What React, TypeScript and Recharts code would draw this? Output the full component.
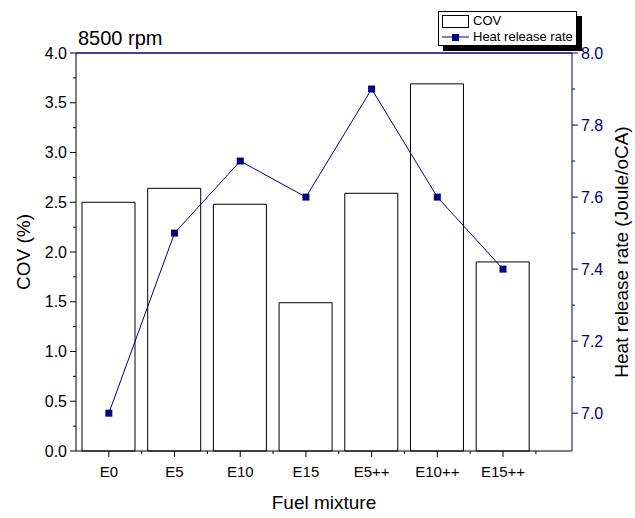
import React from "react";
import { Bar, CartesianGrid, ComposedChart, Legend, Line, ReferenceLine, XAxis, YAxis } from "recharts";

const FONT = "'Liberation Sans', Arial, sans-serif";
const NAVY = "#000080";

// fuel mixtures along the x axis
const categories = ["E0", "E5", "E10", "E15", "E5++", "E10++", "E15++"];
// COV (%) bars, left axis
const covValues = [2.5, 2.64, 2.48, 1.49, 2.59, 3.69, 1.9];
// heat release rate (Joule/oCA), right axis
const heatRelease = [7.0, 7.5, 7.7, 7.6, 7.9, 7.6, 7.4];

// tick positions (majors get labels, the others are minor ticks)
const covTicks = [0, 0.25, 0.5, 0.75, 1, 1.25, 1.5, 1.75, 2, 2.25, 2.5, 2.75, 3, 3.25, 3.5, 3.75, 4];
const heatTicks = [7.0, 7.1, 7.2, 7.3, 7.4, 7.5, 7.6, 7.7, 7.8, 7.9, 8.0];
const mixtureTicks = [1, 1.5, 2, 2.5, 3, 3.5, 4, 4.5, 5, 5.5, 6, 6.5, 7, 7.5];

const chartData = categories.map((name, i) => ({
  pos: i + 1,
  name,
  cov: covValues[i],
  heat: heatRelease[i],
}));

const LeftTick = (props: any) => {
  const { x, y, payload } = props;
  const v = payload.value;
  const major = Math.abs(v * 2 - Math.round(v * 2)) < 1e-6;
  return (
    <g>
      <line x1={x - (major ? 6 : 3)} x2={x} y1={y} y2={y} stroke="#000" />
      {major && (
        <text x={x - 9} y={y} dy={5.5} textAnchor="end" fontSize={16} fill="#000" fontFamily={FONT}>
          {v.toFixed(1)}
        </text>
      )}
    </g>
  );
};

const RightTick = (props: any) => {
  const { x, y, payload } = props;
  const v = payload.value;
  const major = Math.round(v * 10) % 2 === 0;
  return (
    <g>
      <line x1={x} x2={x + (major ? 6 : 3)} y1={y} y2={y} stroke={NAVY} />
      {major && (
        <text x={x + 9} y={y} dy={5.5} textAnchor="start" fontSize={16} fill={NAVY} fontFamily={FONT}>
          {v.toFixed(1)}
        </text>
      )}
    </g>
  );
};

const BottomTick = (props: any) => {
  const { x, y, payload } = props;
  const v = payload.value;
  const major = Number.isInteger(v);
  return (
    <g>
      <line x1={x} x2={x} y1={y} y2={y + (major ? 6 : 3)} stroke="#000" />
      {major && (
        <text x={x} y={y + 26} textAnchor="middle" fontSize={15} fill="#000" fontFamily={FONT}>
          {categories[v - 1]}
        </text>
      )}
    </g>
  );
};

const SquareDot = (props: any) => {
  const { cx, cy, index } = props;
  return <rect key={`dot-${index}`} x={cx - 3.5} y={cy - 3.5} width={7} height={7} fill={NAVY} />;
};

const renderLegend = (props: any) => {
  const payload = (props.payload || []).filter((e: any) => e.type !== "none");
  return (
    <div
      style={{
        border: "1px solid #000",
        background: "#fff",
        boxShadow: "5px 5px 0 #000",
        width: 139,
        height: 35,
        boxSizing: "border-box",
        fontFamily: FONT,
        fontSize: 13,
        color: "#000",
        padding: "1px 0 0 3px",
      }}
    >
      {payload.map((entry: any, i: number) => (
        <div key={`leg-${i}`} style={{ display: "flex", alignItems: "center", height: 16, lineHeight: "16px" }}>
          {entry.type === "rect" ? (
            <div style={{ width: 27, height: 13, border: "1px solid #000", boxSizing: "border-box" }} />
          ) : (
            <svg width={27} height={12}>
              <line x1={0} x2={27} y1={6} y2={6} stroke={NAVY} />
              <rect x={10} y={3} width={7} height={7} fill={NAVY} />
            </svg>
          )}
          <span style={{ marginLeft: 4 }}>{entry.value}</span>
        </div>
      ))}
    </div>
  );
};

const App = () => {
  return (
    <div style={{ position: "absolute", left: 0, top: 0, width: 635, height: 518, background: "#fff" }}>
      <div
        style={{
          position: "absolute",
          left: 78,
          top: 28,
          fontFamily: FONT,
          fontSize: 20,
          lineHeight: 1,
          color: "#000",
        }}
      >
        8500 rpm
      </div>
      <ComposedChart
        width={635}
        height={518}
        data={chartData}
        margin={{ top: 53, right: 0, bottom: 0, left: 0 }}
        style={{ fontFamily: FONT }}
      >
        <CartesianGrid
          xAxisId="bottom"
          yAxisId="left"
          vertical={false}
          horizontalValues={[4]}
          stroke={NAVY}
          strokeDasharray=""
        />
        <XAxis
          xAxisId="bottom"
          dataKey="pos"
          type="number"
          domain={[0.5, 8.05]}
          allowDataOverflow
          ticks={mixtureTicks}
          interval={0}
          tickSize={0}
          tickMargin={0}
          tickLine={false}
          tick={<BottomTick />}
          height={67}
          axisLine={{ stroke: "#000" }}
          label={{ value: "Fuel mixture", position: "center", dy: 18, fontSize: 19, fill: "#000" }}
        />
        <YAxis
          yAxisId="left"
          domain={[0, 4]}
          ticks={covTicks}
          interval={0}
          tickSize={0}
          tickMargin={0}
          tickLine={false}
          tick={<LeftTick />}
          width={76}
          axisLine={{ stroke: "#000" }}
          label={{ value: "COV (%)", angle: -90, position: "center", dx: -15, fontSize: 19, fill: "#000" }}
        />
        <YAxis
          yAxisId="right"
          orientation="right"
          domain={[6.895, 8.0]}
          allowDataOverflow
          ticks={heatTicks}
          interval={0}
          tickSize={0}
          tickMargin={0}
          tickLine={false}
          tick={<RightTick />}
          width={63}
          axisLine={{ stroke: NAVY }}
          label={{
            value: "Heat release rate (Joule/oCA)",
            angle: -90,
            position: "center",
            dx: 18,
            fontSize: 19,
            fill: "#000",
          }}
        />
        <Bar
          xAxisId="bottom"
          yAxisId="left"
          dataKey="cov"
          name="COV"
          barSize={53}
          fill="#fff"
          stroke="#000"
          strokeWidth={1}
          isAnimationActive={false}
        />
        <Line
          xAxisId="bottom"
          yAxisId="right"
          dataKey="heat"
          name="Heat release rate"
          type="linear"
          stroke={NAVY}
          strokeWidth={1}
          dot={SquareDot}
          activeDot={false}
          isAnimationActive={false}
        />
        <ReferenceLine xAxisId="bottom" yAxisId="right" y={8} stroke={NAVY} strokeWidth={1} ifOverflow="visible" />
        <Legend
          layout="vertical"
          align="center"
          verticalAlign="middle"
          content={renderLegend}
          wrapperStyle={{ left: 438, top: 11, width: "auto", height: "auto" }}
        />
      </ComposedChart>
    </div>
  );
};

export default App;
